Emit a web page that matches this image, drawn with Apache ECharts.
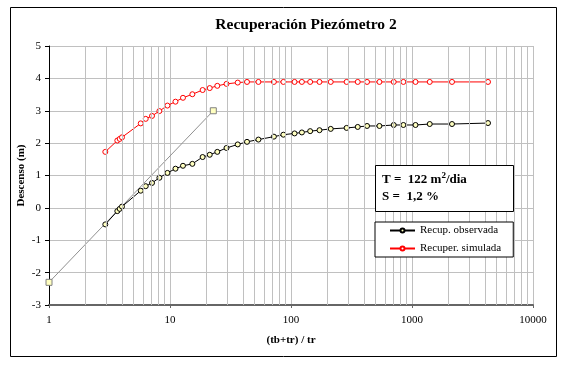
<!DOCTYPE html>
<html>
<head>
<meta charset="utf-8">
<script src="https://cdn.jsdelivr.net/npm/echarts@6/dist/echarts.min.js"></script>
<style>
  html, body { margin: 0; padding: 0; background: #fff; }
  #chart { width: 566px; height: 370px; }
</style>
</head>
<body>
<div id="chart"></div>
<script>
// (tb+tr)/tr ratio for each recovery reading
const ratio = [2.92, 3.67, 3.84, 4.01, 5.73, 6.30, 7.10, 8.17, 9.52, 11.1, 12.8, 15.3,
  18.6, 21.3, 24.6, 29.3, 36.3, 43.3, 53.8, 72.2, 86.5, 107, 123, 144,
  172, 213, 288, 356, 425, 538, 706, 849, 1069, 1401, 2141, 4248];

// Observed residual drawdown (m)
const observed = [-0.51, -0.10, -0.03, 0.04, 0.53, 0.67, 0.77, 0.93, 1.08, 1.21, 1.30, 1.36,
  1.57, 1.64, 1.73, 1.85, 1.96, 2.04, 2.11, 2.20, 2.26, 2.30, 2.33, 2.37,
  2.40, 2.44, 2.47, 2.50, 2.53, 2.53, 2.56, 2.56, 2.56, 2.59, 2.59, 2.62];

// Simulated residual drawdown (m)
const simulated = [1.73, 2.08, 2.13, 2.18, 2.61, 2.75, 2.84, 2.99, 3.16, 3.28, 3.40, 3.51,
  3.64, 3.70, 3.77, 3.83, 3.87, 3.89, 3.89, 3.89, 3.89, 3.89, 3.89, 3.89,
  3.89, 3.89, 3.89, 3.89, 3.89, 3.89, 3.89, 3.89, 3.89, 3.89, 3.89, 3.89];

// Straight-line fit used for the Theis recovery interpretation
const fitX = [1, 22.8];
const fitY = [-2.3, 3.0];

// Axis ticks
const yTicks = [-3, -2, -1, 0, 1, 2, 3, 4, 5];
const xDecades = [1, 10, 100, 1000, 10000];

const seriesNames = ['Recup. observada', 'Recuper. simulada'];

// Intermediate log grid lines (2..9 of every decade)
const minorGrid = [];
for (let i = 0; i < xDecades.length - 1; i++) {
  for (let k = 2; k <= 9; k++) minorGrid.push({ xAxis: k * xDecades[i] });
}

const serif = 'Liberation Serif';
const gridColor = '#c0c0c0';

const chart = echarts.init(document.getElementById('chart'), null, { renderer: 'canvas' });

chart.setOption({
  animation: false,
  backgroundColor: '#fff',
  textStyle: { fontFamily: serif },
  grid: { left: 49, right: 33, top: 46, bottom: 65, containLabel: false },
  xAxis: {
    type: 'log',
    logBase: 10,
    min: xDecades[0],
    max: xDecades[xDecades.length - 1],
    name: '(tb+tr) / tr',
    nameLocation: 'middle',
    nameGap: 30,
    nameMoveOverlap: false,
    nameTextStyle: { fontFamily: serif, fontWeight: 'bold', fontSize: 11, color: '#000' },
    axisLine: { onZero: false, lineStyle: { color: '#666', width: 2 } },
    axisTick: { show: true, length: 3, lineStyle: { color: '#666' } },
    axisLabel: {
      fontFamily: serif, fontSize: 11, color: '#000', margin: 10,
      formatter: (v) => String(Math.round(v))
    },
    splitLine: { show: true, lineStyle: { color: gridColor, width: 1 } },
    minorTick: { show: false },
    minorSplitLine: { show: false }
  },
  yAxis: {
    type: 'value',
    min: yTicks[0],
    max: yTicks[yTicks.length - 1],
    interval: 1,
    name: 'Descenso (m)',
    nameLocation: 'middle',
    nameGap: 22,
    nameMoveOverlap: false,
    nameTextStyle: { fontFamily: serif, fontWeight: 'bold', fontSize: 11, color: '#000' },
    axisLine: { show: true, onZero: false, lineStyle: { color: '#000', width: 1 } },
    axisTick: { show: true, length: 4, lineStyle: { color: '#000' } },
    axisLabel: { fontFamily: serif, fontSize: 11, color: '#000', margin: 8 },
    splitLine: { show: true, lineStyle: { color: gridColor, width: 1 } }
  },
  legend: {
    data: seriesNames,
    orient: 'vertical',
    left: 375,
    top: 222,
    z: 20,
    padding: [3, 12, 3, 14],
    itemGap: 7,
    itemWidth: 25,
    itemHeight: 5,
    borderColor: '#000',
    borderWidth: 1,
    backgroundColor: '#fff',
    textStyle: { fontFamily: serif, fontSize: 11, color: '#000' }
  },
  graphic: [
    {
      type: 'rect',
      z: 0,
      silent: true,
      shape: { x: 10.5, y: 7.5, width: 546, height: 349 },
      style: { fill: 'none', stroke: '#000', lineWidth: 1 }
    },
    {
      type: 'text',
      x: 306,
      y: 25,
      style: {
        text: 'Recuperación Piezómetro 2',
        fontFamily: serif,
        fontWeight: 'bold',
        fontSize: 15.5,
        fill: '#000',
        textAlign: 'center',
        textVerticalAlign: 'middle'
      }
    },
    {
      type: 'rect',
      z: 50,
      silent: true,
      shape: { x: 375.5, y: 165.5, width: 138, height: 46 },
      style: { fill: '#fff', stroke: '#000', lineWidth: 1 }
    },
    {
      type: 'text',
      z: 51,
      x: 382,
      y: 180,
      style: {
        text: '{b|T =  122 m}{s|2}{b|/dia}',
        rich: {
          b: { fontFamily: serif, fontWeight: 'bold', fontSize: 13, fill: '#000' },
          s: { fontFamily: serif, fontWeight: 'bold', fontSize: 9, fill: '#000', padding: [0, 0, 8, 0] }
        },
        textVerticalAlign: 'middle'
      }
    },
    {
      type: 'text',
      z: 51,
      x: 382,
      y: 197,
      style: {
        text: 'S =  1,2 %',
        fontFamily: serif,
        fontWeight: 'bold',
        fontSize: 13,
        fill: '#000',
        textVerticalAlign: 'middle'
      }
    }
  ],
  series: [
    {
      name: 'minor-grid',
      type: 'line',
      data: [],
      z: 1,
      silent: true,
      markLine: {
        silent: true,
        symbol: ['none', 'none'],
        label: { show: false },
        lineStyle: { color: gridColor, type: 'solid', width: 1 },
        emphasis: { disabled: true },
        data: minorGrid
      }
    },
    {
      name: 'fit',
      type: 'line',
      z: 3,
      data: fitX.map((x, i) => [x, fitY[i]]),
      symbol: 'rect',
      symbolSize: 6,
      itemStyle: { color: '#ffffc0', borderColor: '#808080', borderWidth: 1 },
      lineStyle: { color: '#909090', width: 1 }
    },
    {
      name: seriesNames[0],
      type: 'line',
      z: 4,
      data: ratio.map((x, i) => [x, observed[i]]),
      symbol: 'circle',
      symbolSize: 5,
      itemStyle: { color: '#ffffc0', borderColor: '#000', borderWidth: 1 },
      lineStyle: { color: '#000', width: 1 }
    },
    {
      name: seriesNames[1],
      type: 'line',
      z: 4,
      data: ratio.map((x, i) => [x, simulated[i]]),
      symbol: 'circle',
      symbolSize: 5,
      itemStyle: { color: '#fff', borderColor: '#ff0000', borderWidth: 1 },
      lineStyle: { color: '#ff0000', width: 1 }
    }
  ]
});
</script>
</body>
</html>
